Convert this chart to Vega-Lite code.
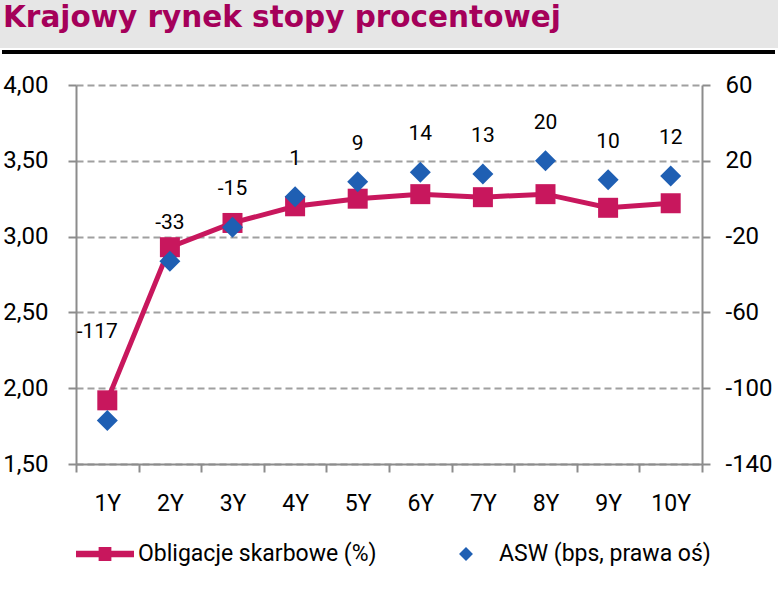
{
  "$schema": "https://vega.github.io/schema/vega-lite/v6.json",
  "background": "white",
  "padding": 0,
  "spacing": 19,
  "config": {
    "view": {"stroke": null},
    "locale": {"number": {"decimal": ",", "thousands": " ", "grouping": [3], "currency": ["", " zł"], "minus": "-"}}
  },
  "vconcat": [
    {
      "width": 626,
      "height": 52,
      "data": {"values": [{"label": "Krajowy rynek stopy procentowej"}]},
      "encoding": {},
      "layer": [
        {
          "mark": {"type": "rect", "color": "#E6E6E6", "clip": false},
          "encoding": {
            "x": {"datum": -76, "type": "quantitative", "scale": {"domain": [0, 626], "nice": false, "zero": false}, "axis": null},
            "x2": {"datum": 702},
            "y": {"datum": 0, "type": "quantitative", "scale": {"domain": [0, 52], "nice": false, "zero": false, "reverse": true}, "axis": null},
            "y2": {"datum": 48}
          }
        },
        {
          "mark": {"type": "rule", "color": "#000000", "strokeWidth": 4, "clip": false},
          "encoding": {
            "x": {"datum": -74, "type": "quantitative"},
            "x2": {"datum": 699},
            "y": {"datum": 52, "type": "quantitative"}
          }
        },
        {
          "mark": {"type": "text", "align": "left", "baseline": "alphabetic", "font": "DejaVu Sans", "fontSize": 29.5, "fontWeight": "bold", "color": "#A5005A", "clip": false},
          "encoding": {
            "x": {"datum": -73, "type": "quantitative"},
            "y": {"datum": 27, "type": "quantitative"},
            "text": {"field": "label"}
          }
        }
      ]
    },
    {
      "width": 626,
      "height": 379,
      "data": {
        "values": [
          {"tenor": "1Y", "series": "Obligacje skarbowe (%)", "value": 1.92},
          {"tenor": "2Y", "series": "Obligacje skarbowe (%)", "value": 2.93},
          {"tenor": "3Y", "series": "Obligacje skarbowe (%)", "value": 3.09},
          {"tenor": "4Y", "series": "Obligacje skarbowe (%)", "value": 3.20},
          {"tenor": "5Y", "series": "Obligacje skarbowe (%)", "value": 3.25},
          {"tenor": "6Y", "series": "Obligacje skarbowe (%)", "value": 3.28},
          {"tenor": "7Y", "series": "Obligacje skarbowe (%)", "value": 3.26},
          {"tenor": "8Y", "series": "Obligacje skarbowe (%)", "value": 3.28},
          {"tenor": "9Y", "series": "Obligacje skarbowe (%)", "value": 3.19},
          {"tenor": "10Y", "series": "Obligacje skarbowe (%)", "value": 3.22},
          {"tenor": "1Y", "series": "ASW (bps, prawa oś)", "value": -117},
          {"tenor": "2Y", "series": "ASW (bps, prawa oś)", "value": -33},
          {"tenor": "3Y", "series": "ASW (bps, prawa oś)", "value": -15},
          {"tenor": "4Y", "series": "ASW (bps, prawa oś)", "value": 1},
          {"tenor": "5Y", "series": "ASW (bps, prawa oś)", "value": 9},
          {"tenor": "6Y", "series": "ASW (bps, prawa oś)", "value": 14},
          {"tenor": "7Y", "series": "ASW (bps, prawa oś)", "value": 13},
          {"tenor": "8Y", "series": "ASW (bps, prawa oś)", "value": 20},
          {"tenor": "9Y", "series": "ASW (bps, prawa oś)", "value": 10},
          {"tenor": "10Y", "series": "ASW (bps, prawa oś)", "value": 12}
        ]
      },
      "encoding": {
        "x": {
          "field": "tenor",
          "type": "ordinal",
          "sort": ["1Y", "2Y", "3Y", "4Y", "5Y", "6Y", "7Y", "8Y", "9Y", "10Y"],
          "scale": {"paddingInner": 0, "paddingOuter": 0},
          "axis": {
            "title": null,
            "labelAngle": 0,
            "tickBand": "extent",
            "grid": false,
            "domainColor": "#8C8C8C",
            "domainWidth": 2,
            "tickColor": "#8C8C8C",
            "tickWidth": 2,
            "tickSize": 8,
            "labelPadding": 20,
            "labelFont": "Roboto",
            "labelFontSize": 23,
            "labelColor": "#000000"
          }
        }
      },
      "layer": [
        {
          "transform": [{"filter": "datum.series == 'Obligacje skarbowe (%)'"}],
          "encoding": {
            "y": {
              "field": "value",
              "type": "quantitative",
              "scale": {"domain": [1.5, 4], "zero": false, "nice": false},
              "axis": {
                "orient": "left",
                "title": null,
                "values": [1.5, 2, 2.5, 3, 3.5, 4],
                "format": ".2f",
                "grid": true,
                "gridDash": [7, 4],
                "gridColor": "#A0A0A0",
                "gridWidth": 2,
                "domainColor": "#8C8C8C",
                "domainWidth": 2,
                "tickColor": "#8C8C8C",
                "tickWidth": 2,
                "tickSize": 8,
                "labelPadding": 20,
                "minExtent": 76,
                "labelFont": "Roboto",
                "labelFontSize": 24,
                "labelColor": "#000000"
              }
            }
          },
          "layer": [
            {"mark": {"type": "line", "color": "#C8175D", "strokeWidth": 5}},
            {"mark": {"type": "square", "color": "#C8175D", "size": 400, "opacity": 1, "filled": true}}
          ]
        },
        {
          "transform": [{"filter": "datum.series == 'ASW (bps, prawa oś)'"}],
          "encoding": {
            "y": {
              "field": "value",
              "type": "quantitative",
              "scale": {"domain": [-140, 60], "zero": false, "nice": false},
              "axis": {
                "orient": "right",
                "title": null,
                "values": [-140, -100, -60, -20, 20, 60],
                "format": "d",
                "grid": false,
                "domainColor": "#8C8C8C",
                "domainWidth": 2,
                "tickColor": "#8C8C8C",
                "tickWidth": 2,
                "tickSize": 8,
                "labelPadding": 15,
                "labelFont": "Roboto",
                "labelFontSize": 24,
                "labelColor": "#000000"
              }
            }
          },
          "layer": [
            {
              "mark": {"type": "point", "filled": true, "size": 7656, "opacity": 1, "strokeWidth": 0},
              "encoding": {
                "color": {
                  "field": "series",
                  "type": "nominal",
                  "scale": {
                    "domain": ["Obligacje skarbowe (%)", "ASW (bps, prawa oś)"],
                    "range": ["#C8175D", "#1F5FB3"]
                  },
                  "legend": {
                    "orient": "bottom",
                    "direction": "horizontal",
                    "title": null,
                    "symbolSize": 3364,
                    "symbolStrokeWidth": 0,
                    "symbolOpacity": 1,
                    "labelFont": "Roboto",
                    "labelFontSize": 23,
                    "labelColor": "#000000",
                    "labelLimit": 500,
                    "labelOffset": 4,
                    "columnPadding": 60,
                    "offset": 10,
                    "padding": 0
                  }
                },
                "shape": {
                  "field": "series",
                  "type": "nominal",
                  "scale": {
                    "domain": ["Obligacje skarbowe (%)", "ASW (bps, prawa oś)"],
                    "range": [
                      "M-1,-0.11H1V0.11H-1Z M-0.22,-0.24H0.22V0.24H-0.22Z",
                      "M0,-0.24L0.24,0L0,0.24L-0.24,0Z"
                    ]
                  }
                }
              }
            },
            {
              "transform": [{"filter": "datum.tenor != '1Y'"}],
              "mark": {"type": "text", "dy": -38, "font": "Roboto", "fontSize": 21, "color": "#000000", "baseline": "middle"},
              "encoding": {"text": {"field": "value", "type": "quantitative", "format": "d"}}
            },
            {
              "transform": [{"filter": "datum.tenor == '1Y'"}],
              "mark": {"type": "text", "dy": -88, "dx": -10, "font": "Roboto", "fontSize": 21, "color": "#000000", "baseline": "middle"},
              "encoding": {"text": {"field": "value", "type": "quantitative", "format": "d"}}
            }
          ]
        }
      ],
      "resolve": {"scale": {"y": "independent"}}
    }
  ]
}
